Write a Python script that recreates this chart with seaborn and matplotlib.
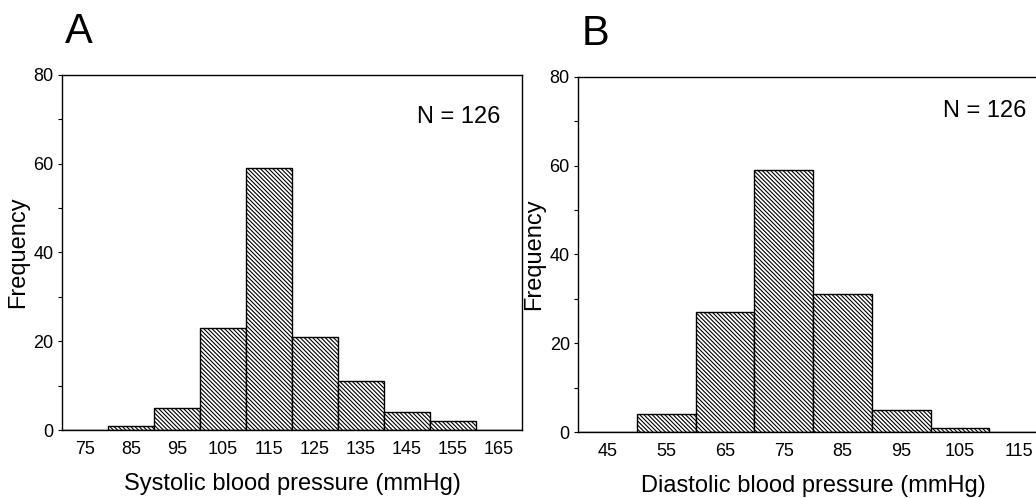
import numpy as np
import pandas as pd
import matplotlib
matplotlib.use('Agg')
import matplotlib.pyplot as plt
from matplotlib.ticker import MultipleLocator
import seaborn as sns

# bin centres and counts
sys_centres = [75, 85, 95, 105, 115, 125, 135, 145, 155, 165]
sys_counts = [0, 1, 5, 23, 59, 21, 11, 4, 2, 0]
dia_centres = [45, 55, 65, 75, 85, 95, 105, 115]
dia_counts = [0, 4, 27, 59, 31, 5, 1, 0]
n_label = 'N = 126'

sns.set_style('ticks')
plt.rcParams['font.family'] = ['Liberation Sans', 'DejaVu Sans']
plt.rcParams['hatch.linewidth'] = 0.8
plt.rcParams['hatch.color'] = 'black'
for k in ['text.color', 'axes.labelcolor', 'xtick.color', 'ytick.color']:
    plt.rcParams[k] = 'black'

fig = plt.figure(figsize=(10.36, 4.98), dpi=100)
axA = fig.add_axes([0.0598, 0.1365, 0.444, 0.713])
axB = fig.add_axes([0.558, 0.1325, 0.4537, 0.713])


def panel(ax, centres, counts, xlim, xlabel, letter, n_y):
    df = pd.DataFrame({'bp': centres, 'n': counts})
    edges = [c - 5 for c in centres] + [centres[-1] + 5]
    sns.histplot(data=df, x='bp', weights='n', bins=edges, ax=ax,
                 color='white', edgecolor='black', linewidth=1.0,
                 alpha=1, hatch='\\' * 8)
    ax.set_xlim(*xlim)
    ax.set_ylim(0, 80)
    ax.set_xticks(centres)
    ax.yaxis.set_major_locator(MultipleLocator(20))
    ax.yaxis.set_minor_locator(MultipleLocator(10))
    ax.tick_params(axis='x', length=0, pad=8, labelsize=13)
    ax.tick_params(axis='y', which='both', direction='out', length=3,
                   width=0.8, pad=3, labelsize=13)
    for s in ax.spines.values():
        s.set_visible(True)
        s.set_linewidth(1.0)
        s.set_color('black')
    ax.set_xlabel(xlabel, fontsize=17, labelpad=11)
    ax.set_ylabel('Frequency', fontsize=17, labelpad=3)
    ax.text(0.953, n_y, n_label, transform=ax.transAxes, ha='right',
            va='center', fontsize=17)
    ax.text(0.007, 1.09, letter, transform=ax.transAxes, ha='left',
            va='baseline', fontsize=30)


panel(axA, sys_centres, sys_counts, (70, 170),
      'Systolic blood pressure (mmHg)', 'A', 0.882)
panel(axB, dia_centres, dia_counts, (40, 120),
      'Diastolic blood pressure (mmHg)', 'B', 0.905)

fig.savefig('out.png', dpi=100)
